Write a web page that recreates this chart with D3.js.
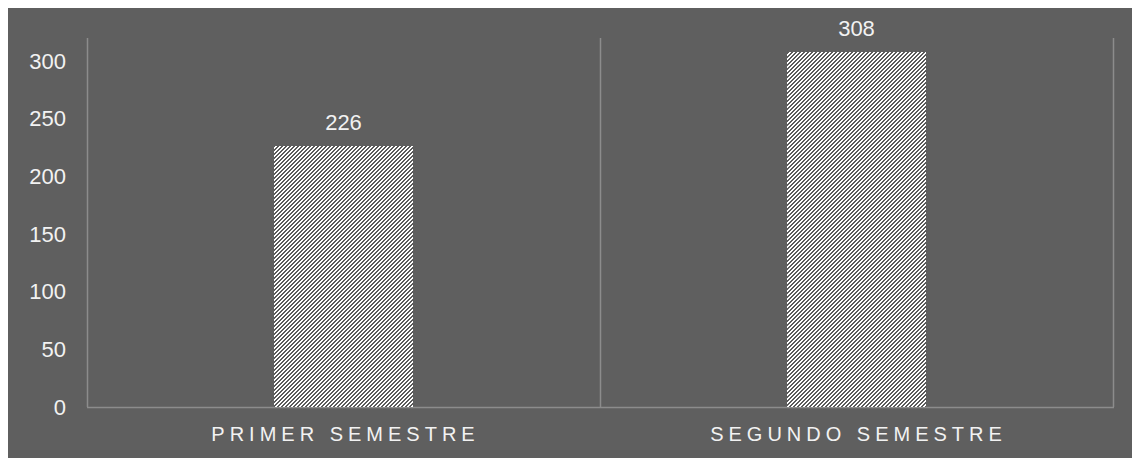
<!DOCTYPE html>
<html>
<head>
<meta charset="utf-8">
<script src="https://cdn.jsdelivr.net/npm/d3@7"></script>
<style>
  html, body { margin: 0; padding: 0; background: #fff; }
  svg { display: block; font-family: "Liberation Sans", Arial, sans-serif; }
</style>
</head>
<body>
<svg id="chart"></svg>
<script>
const categories = ["PRIMER SEMESTRE", "SEGUNDO SEMESTRE"];
const values = [226, 308];
const yTicks = [0, 50, 100, 150, 200, 250, 300];

const width = 1132, height = 458;
const margin = { left: 87, right: 19, top: 38, bottom: 51 };

const svg = d3.select("#chart").attr("width", width).attr("height", height);

// hatch fill for the bars
const defs = svg.append("defs");
const pat = defs.append("pattern")
  .attr("id", "hatch")
  .attr("patternUnits", "userSpaceOnUse")
  .attr("width", 4).attr("height", 4);
pat.append("rect").attr("width", 4).attr("height", 4).attr("fill", "#ffffff");
[[0, 3], [1, 2], [2, 1], [3, 0]].forEach(([x, y]) => {
  pat.append("rect").attr("x", x).attr("y", y).attr("width", 2).attr("height", 1)
    .attr("fill", "#5a5a5a").attr("shape-rendering", "crispEdges");
});
pat.append("rect").attr("x", 0).attr("y", 0).attr("width", 1).attr("height", 1)
  .attr("fill", "#5a5a5a").attr("shape-rendering", "crispEdges");

svg.append("rect")
  .attr("x", 8).attr("y", 8)
  .attr("width", width - 8).attr("height", height - 8)
  .attr("fill", "#5f5f5f");

const x = d3.scaleBand()
  .domain(categories)
  .range([margin.left, width - margin.right])
  .padding(0);

const y = d3.scaleLinear()
  .domain([0, 320])
  .range([height - margin.bottom, margin.top]);

const g = svg.append("g");

// category separators
const edges = [margin.left].concat(categories.map(c => x(c) + x.bandwidth()));
g.selectAll(".sep")
  .data(edges)
  .join("line")
  .attr("class", "sep")
  .attr("x1", d => d + 0.5).attr("x2", d => d + 0.5)
  .attr("y1", y(320)).attr("y2", y(0))
  .attr("stroke", "#8c8c8c")
  .attr("stroke-width", 1.5);

g.append("line")
  .attr("x1", margin.left).attr("x2", width - margin.right + 1)
  .attr("y1", y(0) + 0.5).attr("y2", y(0) + 0.5)
  .attr("stroke", "#8c8c8c")
  .attr("stroke-width", 1.5);

// bars
const barW = x.bandwidth() * 0.27;
g.selectAll(".bar")
  .data(values)
  .join("rect")
  .attr("class", "bar")
  .attr("x", (d, i) => Math.round(x(categories[i]) + (x.bandwidth() - barW) / 2))
  .attr("width", Math.round(barW))
  .attr("y", d => Math.round(y(d)))
  .attr("height", d => Math.round(y(0) - y(d)))
  .attr("fill", "url(#hatch)");

// value labels
g.selectAll(".val")
  .data(values)
  .join("text")
  .attr("class", "val")
  .attr("x", (d, i) => x(categories[i]) + x.bandwidth() / 2)
  .attr("y", d => y(d) - 16)
  .attr("text-anchor", "middle")
  .attr("fill", "#f2f2f2")
  .attr("font-size", 22)
  .text(d => d);

// y axis labels
g.selectAll(".ytick")
  .data(yTicks)
  .join("text")
  .attr("class", "ytick")
  .attr("x", 66)
  .attr("y", d => y(d))
  .attr("dy", "0.35em")
  .attr("text-anchor", "end")
  .attr("fill", "#f2f2f2")
  .attr("font-size", 22)
  .text(d => d);

// category labels
g.selectAll(".cat")
  .data(categories)
  .join("text")
  .attr("class", "cat")
  .attr("x", d => x(d) + x.bandwidth() / 2 + 2)
  .attr("y", 441)
  .attr("text-anchor", "middle")
  .attr("fill", "#f2f2f2")
  .attr("font-size", 20)
  .attr("letter-spacing", "5px")
  .text(d => d);
</script>
</body>
</html>
